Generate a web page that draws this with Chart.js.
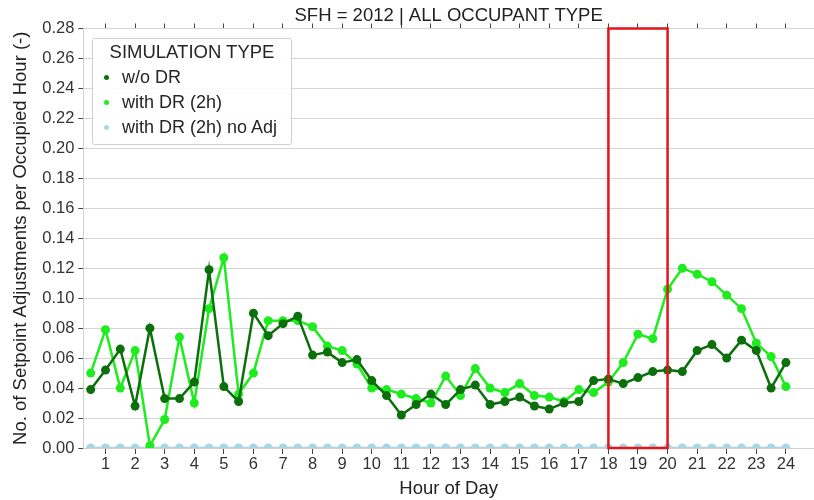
<!DOCTYPE html>
<html>
<head>
<meta charset="utf-8">
<script src="https://cdn.jsdelivr.net/npm/chart.js@4.4.1/dist/chart.umd.min.js"></script>
<style>
  html, body { margin: 0; padding: 0; background: #fff; }
  #wrap { position: relative; width: 814px; height: 500px; }
  #legend {
    position: absolute; left: 92px; top: 38px; width: 198px;
    border: 1px solid #cfcfcf; border-radius: 3px;
    background: rgba(255,255,255,0.9);
    font-family: "Liberation Sans", Arial, sans-serif; color: #262626;
    padding-bottom: 4px;
  }
  #legend .ttl { text-align: center; font-size: 18.5px; line-height: 26px; }
  #legend .item { font-size: 18px; line-height: 25px; white-space: nowrap; }
  #legend .dot {
    display: inline-block; width: 5px; height: 5px; border-radius: 50%;
    margin: 0 13px 0 11px; vertical-align: middle; position: relative; top: -1px;
  }
</style>
</head>
<body>
<div id="wrap">
  <canvas id="chart" width="814" height="500"></canvas>
  <div id="legend"><div class="ttl">SIMULATION TYPE</div></div>
</div>
<script>
// hour of day, half-hour steps
const hours = [0.5, 1, 1.5, 2, 2.5, 3, 3.5, 4, 4.5, 5, 5.5, 6, 6.5, 7, 7.5, 8,
  8.5, 9, 9.5, 10, 10.5, 11, 11.5, 12, 12.5, 13, 13.5, 14, 14.5, 15, 15.5, 16,
  16.5, 17, 17.5, 18, 18.5, 19, 19.5, 20, 20.5, 21, 21.5, 22, 22.5, 23, 23.5, 24];

const woDR = [0.039, 0.052, 0.066, 0.028, 0.080, 0.033, 0.033, 0.044, 0.119, 0.041, 0.031, 0.090,
  0.075, 0.083, 0.088, 0.062, 0.064, 0.057, 0.059, 0.045, 0.035, 0.022, 0.029, 0.036,
  0.029, 0.039, 0.042, 0.029, 0.031, 0.034, 0.028, 0.026, 0.030, 0.031, 0.045, 0.046,
  0.043, 0.047, 0.051, 0.052, 0.051, 0.065, 0.069, 0.060, 0.072, 0.065, 0.040, 0.057];

const withDR = [0.050, 0.079, 0.040, 0.065, 0.0015, 0.019, 0.074, 0.030, 0.093, 0.127, 0.036, 0.050,
  0.085, 0.085, 0.085, 0.081, 0.068, 0.065, 0.056, 0.040, 0.039, 0.036, 0.033, 0.030,
  0.048, 0.035, 0.053, 0.040, 0.037, 0.043, 0.035, 0.034, 0.031, 0.039, 0.037, 0.044,
  0.057, 0.076, 0.073, 0.106, 0.120, 0.116, 0.111, 0.102, 0.093, 0.070, 0.061, 0.041];

const withDRnoAdj = [0, 0, 0, 0, 0, 0, 0, 0, 0, 0, 0, 0, 0, 0, 0, 0, 0, 0, 0, 0, 0, 0, 0, 0,
  0, 0, 0, 0, 0, 0, 0, 0, 0, 0, 0, 0, 0, 0, 0, 0, 0, 0, 0, 0, 0, 0, 0, 0];

const seriesNames = ['w/o DR', 'with DR (2h)', 'with DR (2h) no Adj'];
const seriesColors = ['#0b700b', '#1eec1e', '#a9d6e3'];
const tickHours = [1, 2, 3, 4, 5, 6, 7, 8, 9, 10, 11, 12, 13, 14, 15, 16, 17, 18, 19, 20, 21, 22, 23, 24];
const drWindow = [18, 20];

const FONT = '"Liberation Sans", Arial, sans-serif';

function pts(vals) {
  return vals.map((v, i) => ({ x: hours[i], y: v }));
}

function makeSet(i, vals) {
  return {
    label: seriesNames[i],
    data: pts(vals),
    borderColor: seriesColors[i],
    backgroundColor: seriesColors[i],
    borderWidth: 2.5,
    pointRadius: 4.5,
    pointHoverRadius: 4.5,
    pointBorderWidth: 0
  };
}

// red box over the DR event hours
const drBox = {
  id: 'drBox',
  afterDatasetsDraw(chart) {
    const { ctx, chartArea, scales } = chart;
    const x1 = scales.x.getPixelForValue(drWindow[0]);
    const x2 = scales.x.getPixelForValue(drWindow[1]);
    ctx.save();
    ctx.strokeStyle = '#e4141b';
    ctx.lineWidth = 2.5;
    ctx.strokeRect(x1, chartArea.top, x2 - x1, chartArea.bottom - chartArea.top);
    ctx.restore();
  }
};

const hourTicks = scale => { scale.ticks = tickHours.map(h => ({ value: h })); };

const chart = new Chart(document.getElementById('chart'), {
  type: 'line',
  data: {
    datasets: [makeSet(0, woDR), makeSet(1, withDR), makeSet(2, withDRnoAdj)]
  },
  options: {
    responsive: false,
    animation: false,
    layout: { autoPadding: false, padding: 0 },
    plugins: {
      legend: { display: false },
      tooltip: { enabled: false },
      title: {
        display: true,
        fullSize: false,
        text: 'SFH = 2012 | ALL OCCUPANT TYPE',
        color: '#222',
        font: { family: FONT, size: 18.5, weight: 'normal', lineHeight: 1 },
        padding: { top: 7, bottom: -2 }
      }
    },
    scales: {
      x: {
        type: 'linear',
        position: 'bottom',
        min: 0.25,
        max: 24.95,
        afterBuildTicks: hourTicks,
        grid: { drawOnChartArea: false, tickLength: 6, tickColor: '#444', tickWidth: 1 },
        border: { color: '#d0d0d0' },
        ticks: { color: '#333', padding: 1, font: { family: FONT, size: 16.5 }, maxRotation: 0 },
        title: {
          display: true, text: 'Hour of Day', color: '#222',
          font: { family: FONT, size: 18.5 }, padding: { top: 2, bottom: 0 }
        }
      },
      xTop: {
        type: 'linear',
        position: 'top',
        min: 0.25,
        max: 24.95,
        afterBuildTicks: hourTicks,
        grid: { drawOnChartArea: false, tickLength: 5, tickColor: '#444', tickWidth: 1 },
        border: { display: false },
        ticks: { display: false }
      },
      y: {
        min: 0,
        max: 0.28,
        grid: { color: '#d6d6d6', lineWidth: 1, tickLength: 5, tickColor: '#444' },
        border: { color: '#d0d0d0' },
        ticks: {
          stepSize: 0.02, color: '#333', padding: 4,
          font: { family: FONT, size: 16.5 },
          callback: v => v.toFixed(2)
        },
        title: {
          display: true, text: 'No. of Setpoint Adjustments per Occupied Hour (-)', color: '#222',
          font: { family: FONT, size: 18.5 }, padding: { top: 10, bottom: 6 }
        }
      }
    }
  },
  plugins: [drBox]
});

// legend built from the chart's datasets
const lg = document.getElementById('legend');
chart.data.datasets.forEach(ds => {
  const row = document.createElement('div');
  row.className = 'item';
  const dot = document.createElement('span');
  dot.className = 'dot';
  dot.style.background = ds.backgroundColor;
  row.appendChild(dot);
  row.appendChild(document.createTextNode(ds.label));
  lg.appendChild(row);
});
</script>
</body>
</html>
